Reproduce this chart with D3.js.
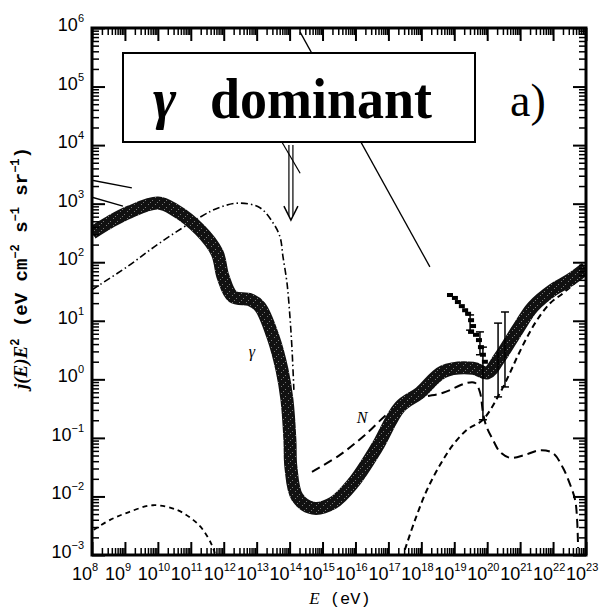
<!DOCTYPE html>
<html><head><meta charset="utf-8">
<script src="https://cdn.jsdelivr.net/npm/d3@7"></script>
<style>body{margin:0;background:#fff}svg{display:block}</style>
</head><body><svg id="c" width="602" height="613"></svg>
<script>
// ---- tick labels (exponents of ten) ----
const xTickExps = [8,9,10,11,12,13,14,15,16,17,18,19,20,21,22,23];
const yTickExps = [-3,-2,-1,0,1,2,3,4,5,6];

// ---- gamma-ray flux (thick curve), log10 E and log10 j(E)E^2 ----
const gammaLogE = [8.00,8.55,9.15,10.00,10.52,11.28,11.80,11.98,12.28,12.80,13.10,13.50,13.77,13.92,14.01,14.04,14.23,14.71,15.32,15.93,16.65,17.35,17.96,18.66,19.57,20.00,20.39,20.91,21.39,22.00,22.52,23.00];
const gammaLogJ = [2.50,2.69,2.86,3.01,2.89,2.55,2.16,1.75,1.41,1.36,1.24,0.72,0.16,-0.35,-1.04,-1.50,-2.01,-2.20,-2.11,-1.77,-1.16,-0.47,-0.23,0.13,0.19,0.11,0.38,0.84,1.24,1.53,1.70,1.90];

// ---- dash-dot curve ----
const ddLogE = [8.00,9.06,10.06,11.28,11.89,12.49,13.10,13.50,13.71,13.80,13.92,14.01,14.07,14.13];
const ddLogJ = [1.53,1.92,2.33,2.77,2.94,3.01,2.93,2.67,2.43,2.09,1.65,1.07,0.55,-0.18];

// ---- low-energy dashed curve ----
const lowLogE = [8.05,8.55,9.06,9.85,10.58,11.07,11.37,11.64,11.73];
const lowLogJ = [-2.57,-2.40,-2.28,-2.15,-2.23,-2.40,-2.57,-2.83,-2.97];

// ---- rising dashed curve (high energy) ----
const riseLogE = [17.50,17.81,18.17,18.57,18.96,19.39,19.87,20.39,20.69,20.91,21.21,21.51,21.91,22.30,22.67,23.00];
const riseLogJ = [-2.91,-2.40,-1.89,-1.46,-1.12,-0.86,-0.69,-0.23,0.11,0.38,0.72,1.01,1.30,1.47,1.65,1.83];

// ---- nucleon curve N (long dashes) ----
const nLogE = [14.68,15.53,16.29,17.14,17.96,18.66,19.39,19.63,19.78,19.87,19.96,20.18,20.39,20.69,21.15,21.60,22.00,22.30,22.52,22.67,22.73,22.76];
const nLogJ = [-1.58,-1.29,-0.95,-0.52,-0.32,-0.23,-0.06,-0.06,-0.22,-0.56,-0.78,-1.04,-1.24,-1.34,-1.29,-1.21,-1.26,-1.51,-1.80,-2.06,-2.40,-2.88];

// ---- solid lines ----
const longLineLogE = [14.32,18.26];
const longLineLogJ = [5.93,1.92];
const shortALogE = [8.00,9.21], shortALogJ = [3.40,3.27];
const shortBLogE = [8.00,8.94], shortBLogJ = [3.11,2.96];
const tickLineLogE = [13.77,14.32], tickLineLogJ = [4.05,3.52];

// ---- upper-limit arrow ----
const arrowLogE = 14.04, arrowTopLogJ = 4.0, arrowBotLogJ = 2.72;

// ---- measured points ----
const ptLogE = [18.87,19.02,19.11,19.23,19.33,19.42,19.51,19.57,19.51,19.66,19.75,19.81,19.87,19.93];
const ptLogJ = [1.44,1.39,1.32,1.25,1.18,1.12,1.01,0.91,0.81,0.76,0.67,0.55,0.42,0.30];
const ebLogE = [19.48,19.78,19.87,20.33,20.54];
const ebLo = [0.84,0.42,-0.69,-0.30,-0.13];
const ebHi = [1.10,0.81,0.55,0.96,1.15];

// ---- layout ----
const L=92,R=586,T=28,B=555;
const svg=d3.select("#c");
const x=d3.scaleLog().domain([1e8,1e23]).range([L,R]);
const y=d3.scaleLog().domain([1e-3,1e6]).range([B,T]);
const P=v=>Math.pow(10,v);

const defs=svg.append("defs");
defs.append("clipPath").attr("id","clip").append("rect").attr("x",L).attr("y",T).attr("width",R-L).attr("height",B-T);
const pat=defs.append("pattern").attr("id","grain").attr("width",7).attr("height",7).attr("patternUnits","userSpaceOnUse");
pat.append("rect").attr("width",7).attr("height",7).attr("fill","#111");
[[1,1],[5,4],[3,6]].forEach(d=>pat.append("rect").attr("x",d[0]).attr("y",d[1]).attr("width",1).attr("height",1).attr("fill","#777"));

const g=svg.append("g").attr("clip-path","url(#clip)");
const line=d3.line().x(d=>x(P(d[0]))).y(d=>y(P(d[1]))).curve(d3.curveCatmullRom.alpha(0.5));
const zip=(a,b)=>a.map((v,i)=>[v,b[i]]);

// curves
g.append("path").attr("d",line(zip(lowLogE,lowLogJ))).attr("fill","none").attr("stroke","#000").attr("stroke-width",1.8).attr("stroke-dasharray","5,4");
g.append("path").attr("d",line(zip(riseLogE,riseLogJ))).attr("fill","none").attr("stroke","#000").attr("stroke-width",2).attr("stroke-dasharray","6,4");
g.append("path").attr("d",line(zip(nLogE,nLogJ))).attr("fill","none").attr("stroke","#000").attr("stroke-width",2).attr("stroke-dasharray","9,5");
g.append("path").attr("d",line(zip(ddLogE,ddLogJ))).attr("fill","none").attr("stroke","#000").attr("stroke-width",1.6).attr("stroke-dasharray","7,3,1.5,3");
const straight=d3.line().x(d=>x(P(d[0]))).y(d=>y(P(d[1])));
[[longLineLogE,longLineLogJ,1.3],[shortALogE,shortALogJ,1.3],[shortBLogE,shortBLogJ,1.3],[tickLineLogE,tickLineLogJ,1.2]].forEach(s=>
  g.append("path").attr("d",straight(zip(s[0],s[1]))).attr("fill","none").attr("stroke","#000").attr("stroke-width",s[2]));

// thick gamma curve
g.append("path").attr("d",line(zip(gammaLogE,gammaLogJ))).attr("fill","none").attr("stroke","url(#grain)").attr("stroke-width",13).attr("stroke-linejoin","round");

// measured points
ebLogE.forEach((e,i)=>{
  const xx=x(P(e)),y1=y(P(ebHi[i])),y2=y(P(ebLo[i]));
  g.append("line").attr("x1",xx).attr("x2",xx).attr("y1",y1).attr("y2",y2).attr("stroke","#000").attr("stroke-width",1.5);
  [y1,y2].forEach(yy=>g.append("line").attr("x1",xx-4).attr("x2",xx+4).attr("y1",yy).attr("y2",yy).attr("stroke","#000").attr("stroke-width",1.5));
});
ptLogE.forEach((e,i)=>{
  g.append("rect").attr("x",x(P(e))-3).attr("y",y(P(ptLogJ[i]))-2).attr("width",6).attr("height",4).attr("fill","#000");
});

// arrow (double shaft)
{
  const ax=x(P(arrowLogE)),ay1=y(P(arrowTopLogJ)),ay2=y(P(arrowBotLogJ));
  [-2,2].forEach(o=>g.append("line").attr("x1",ax+o).attr("x2",ax+o).attr("y1",ay1).attr("y2",ay2-4).attr("stroke","#000").attr("stroke-width",1.2));
  g.append("path").attr("d",`M${ax-7},${ay2-14}L${ax},${ay2}L${ax+7},${ay2-14}`).attr("fill","none").attr("stroke","#000").attr("stroke-width",1.5);
}

// axes ticks (inward on all four sides)
function minors(lo,hi){const a=[];for(let e=lo;e<hi;e++)for(let m=2;m<=9;m++)a.push(m*Math.pow(10,e));return a;}
const xMaj=xTickExps.map(P), yMaj=yTickExps.map(P);
const xMin=minors(8,23), yMin=minors(-3,6);
function ax(gen,tr,vals,len,w){
  const a=svg.append("g").attr("transform",tr).call(gen.tickValues(vals).tickSize(len).tickFormat(""));
  a.select(".domain").remove();
  a.selectAll("line").attr("stroke","#000").attr("stroke-width",w);
}
ax(d3.axisBottom(x),`translate(0,${B})`,xMaj,-13,2);
ax(d3.axisBottom(x),`translate(0,${B})`,xMin,-7,1.5);
ax(d3.axisTop(x),`translate(0,${T})`,xMaj,-13,2);
ax(d3.axisTop(x),`translate(0,${T})`,xMin,-7,1.5);
ax(d3.axisLeft(y),`translate(${L},0)`,yMaj,-13,2);
ax(d3.axisLeft(y),`translate(${L},0)`,yMin,-7,1.5);
ax(d3.axisRight(y),`translate(${R},0)`,yMaj,-13,2);
ax(d3.axisRight(y),`translate(${R},0)`,yMin,-7,1.5);
svg.append("rect").attr("x",L).attr("y",T).attr("width",R-L).attr("height",B-T).attr("fill","none").attr("stroke","#000").attr("stroke-width",3);

// tick labels
const lf="'Liberation Sans',Arial,sans-serif";
xTickExps.forEach(e=>{
  const t=svg.append("text").attr("x",x(P(e))-20).attr("y",580).attr("font-family",lf).attr("font-size",18);
  t.append("tspan").text("10");
  t.append("tspan").attr("dy",-9).attr("font-size",11).text(e);
});
yTickExps.forEach(e=>{
  const t=svg.append("text").attr("x",84).attr("y",y(P(e))+3).attr("text-anchor","end").attr("font-family",lf).attr("font-size",18);
  t.append("tspan").text("10");
  t.append("tspan").attr("dy",-9).attr("font-size",11).text(e<0?"\u2212"+(-e):e);
});

// axis titles
const mf="'Liberation Mono','Courier New',monospace", sf="'Liberation Serif','Times New Roman',serif";
{
  const t=svg.append("text").attr("transform","translate(27,268) rotate(-90)").attr("text-anchor","middle").attr("font-family",mf).attr("font-weight","bold").attr("font-size",19);
  t.append("tspan").attr("font-family",sf).attr("font-style","italic").text("j(E)E");
  t.append("tspan").attr("dy",-8).attr("font-size",12).text("2");
  t.append("tspan").attr("dy",8).text(" (eV cm");
  t.append("tspan").attr("dy",-8).attr("font-size",12).text("\u22122");
  t.append("tspan").attr("dy",8).text(" s");
  t.append("tspan").attr("dy",-8).attr("font-size",12).text("\u22121");
  t.append("tspan").attr("dy",8).text(" sr");
  t.append("tspan").attr("dy",-8).attr("font-size",12).text("\u22121");
  t.append("tspan").attr("dy",8).text(")");
}
{
  const t=svg.append("text").attr("x",340).attr("y",604).attr("text-anchor","middle").attr("font-family",mf).attr("font-size",17);
  t.append("tspan").attr("font-family",sf).attr("font-style","italic").text("E");
  t.append("tspan").text(" (eV)");
}

// curve labels
svg.append("text").attr("x",252).attr("y",357).attr("text-anchor","middle").attr("font-family",sf).attr("font-style","italic").attr("font-size",16).text("\u03b3");
svg.append("text").attr("x",362).attr("y",423).attr("text-anchor","middle").attr("font-family",sf).attr("font-style","italic").attr("font-size",16).text("N");

// title box
svg.append("rect").attr("x",123).attr("y",53).attr("width",352).attr("height",89).attr("fill","#fff").attr("stroke","#000").attr("stroke-width",2);
svg.append("text").attr("x",153).attr("y",118).attr("font-family",sf).attr("font-weight","bold").attr("font-style","italic").attr("font-size",56).text("\u03b3");
svg.append("text").attr("x",210).attr("y",118).attr("font-family",sf).attr("font-weight","bold").attr("font-size",56).attr("textLength",222).attr("lengthAdjust","spacingAndGlyphs").text("dominant");
svg.append("text").attr("x",510).attr("y",116).attr("font-family",sf).attr("font-size",46).text("a)");
</script></body></html>
